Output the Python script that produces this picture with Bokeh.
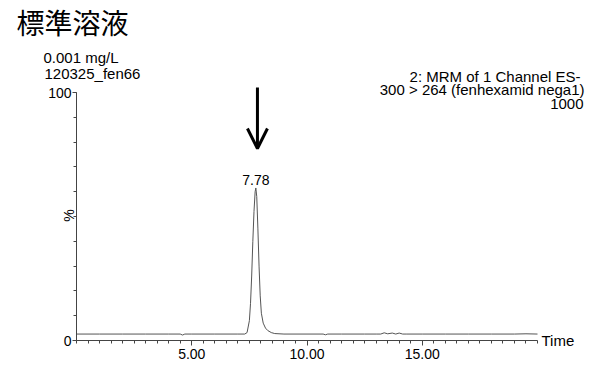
import numpy as np
from bokeh.plotting import figure
from bokeh.models import (Range1d, FixedTicker, NumeralTickFormatter, Label,
                          Arrow, OpenHead)
from bokeh.embed import file_html
from bokeh.resources import INLINE

# ---- data ----
time_min = [0.0, 1.0, 2.0, 3.0, 4.0, 4.5, 4.6, 4.7, 5.0, 6.0, 7.0, 7.3,
            7.4, 7.5, 7.55, 7.6, 7.65, 7.7, 7.75, 7.78, 7.82, 7.87, 7.92,
            7.97, 8.02, 8.1, 8.2, 8.3, 8.45, 8.6, 9.0, 10.0, 10.7, 10.8,
            10.9, 11.5, 12.5, 13.0, 13.2, 13.35, 13.5, 13.7, 13.85, 14.0,
            14.15, 14.3, 15.0, 16.0, 17.0, 18.0, 19.0, 19.5, 20.0]
intensity_pct = [2.6, 2.6, 2.6, 2.6, 2.6, 2.6, 2.2, 2.6, 2.6, 2.6, 2.6, 2.6,
                 3.2, 8.0, 15.0, 26.0, 40.0, 52.0, 60.0, 61.5, 58.0, 45.0, 30.0,
                 18.0, 11.0, 7.0, 5.0, 4.0, 3.2, 2.8, 2.6, 2.6, 2.6, 2.3,
                 2.6, 2.6, 2.6, 2.6, 2.6, 3.1, 2.7, 3.0, 2.6, 3.0,
                 2.6, 2.6, 2.6, 2.6, 2.6, 2.6, 2.6, 2.7, 2.6]
peak_time = 7.78
peak_pct = 61.5
peak_label = "7.78"
x_tick_labels = [5.0, 10.0, 15.0]
y_tick_labels = [0, 100]
title_text = "標準溶液"
left_lines = ["0.001 mg/L", "120325_fen66"]
right_lines = ["2: MRM of 1 Channel ES-", "300 > 264 (fenhexamid nega1)", "1000"]

# ---- layout ----
W, H = 595, 365
AXL, AXR, AYT, AYB = 76, 537, 92, 340      # pixel positions of x=0, x=20, y=100, y=0
X0, X1, Y0, Y1 = 0.0, 20.0, 0.0, 100.0
FONT = "Liberation Sans"
AX = "#444444"


def dx(px):
    return X0 + (px - AXL) * (X1 - X0) / (AXR - AXL)


def dy(py):
    return Y0 + (AYB - py) * (Y1 - Y0) / (AYB - AYT)


p = figure(width=W, height=H, x_range=Range1d(dx(0), dx(W)),
           y_range=Range1d(dy(H), dy(0)),
           output_backend="svg", toolbar_location=None,
           min_border_left=0, min_border_right=0,
           min_border_top=0, min_border_bottom=0)
p.outline_line_color = None
p.grid.visible = False
p.background_fill_color = "white"
p.border_fill_color = "white"

p.line(time_min, intensity_pct, line_color="#555555", line_width=1)

# x axis
xa = p.xaxis[0]
xa.fixed_location = Y0
xa.bounds = (X0, X1)
xa.ticker = FixedTicker(ticks=x_tick_labels, minor_ticks=list(np.arange(0, 20.01, 0.5)))
xa.formatter = NumeralTickFormatter(format="0.00")
xa.axis_line_color = AX
xa.major_tick_line_color = AX
xa.minor_tick_line_color = AX
xa.major_tick_out = 5
xa.major_tick_in = 0
xa.minor_tick_out = 3
xa.minor_tick_in = 0
xa.major_label_standoff = 3
xa.major_label_text_font = FONT
xa.major_label_text_font_size = "14px"
xa.major_label_text_color = "black"

# y axis
ya = p.yaxis[0]
ya.fixed_location = X0
ya.bounds = (Y0, Y1)
ya.ticker = FixedTicker(ticks=y_tick_labels, minor_ticks=list(range(0, 101, 10)))
ya.axis_line_color = AX
ya.major_tick_line_color = AX
ya.minor_tick_line_color = AX
ya.major_tick_out = 4
ya.major_tick_in = 0
ya.minor_tick_out = 3
ya.minor_tick_in = 0
ya.major_label_standoff = 1
ya.major_label_text_font = FONT
ya.major_label_text_font_size = "14px"
ya.major_label_text_color = "black"


def add_label(text, px, py, size="15px", align="left", baseline="alphabetic",
              font=FONT, angle=0.0):
    p.add_layout(Label(x=dx(px), y=dy(py), text=text, text_font=font,
                       text_font_size=size, text_align=align,
                       text_baseline=baseline, text_color="black", angle=angle))


add_label(title_text, 16, 21, size="28px", baseline="middle", font="Noto Sans CJK JP")
add_label(left_lines[0], 43, 57)
add_label(left_lines[1], 44, 73)
add_label(right_lines[0], 580, 76, align="right")
add_label(right_lines[1], 584, 89, align="right")
add_label(right_lines[2], 583, 103, align="right")
add_label("%", 68, 215, size="14px", align="center", baseline="middle", angle=np.pi / 2)
add_label("Time", 541, 340, size="15px", baseline="middle")

# peak annotation
p.add_layout(Label(x=peak_time, y=peak_pct, y_offset=3, text=peak_label,
                   text_font=FONT, text_font_size="14px", text_align="center",
                   text_baseline="bottom", text_color="black"))
p.add_layout(Arrow(end=OpenHead(size=20, line_width=3, line_color="black"),
                   x_start=peak_time + 0.07, y_start=dy(87),
                   x_end=peak_time + 0.07, y_end=dy(148),
                   line_width=3, line_color="black"))

open("out.html", "w").write(file_html(p, INLINE))
